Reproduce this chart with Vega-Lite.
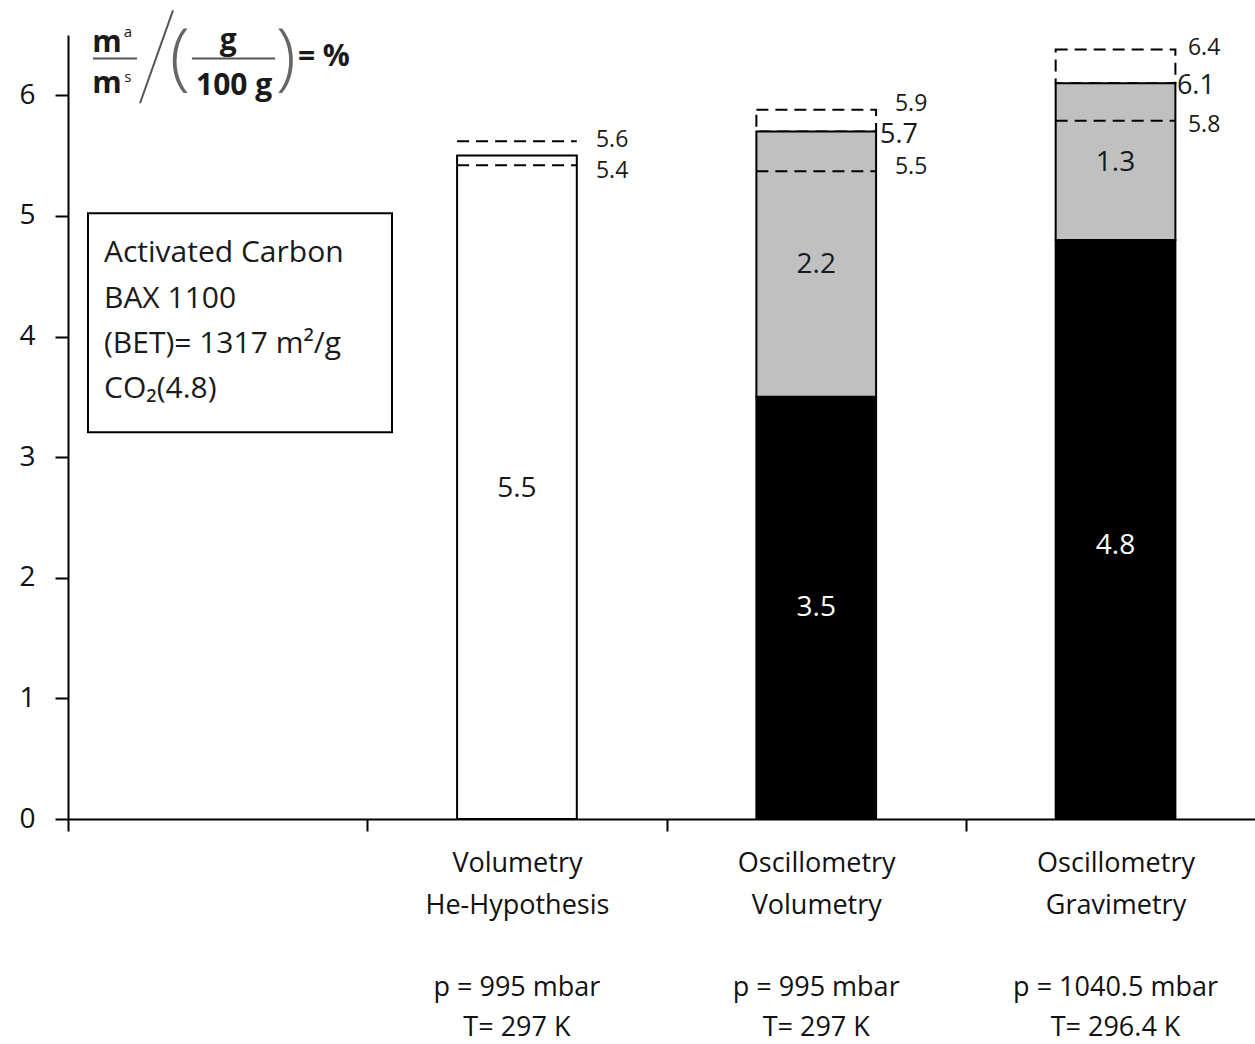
{
"$schema": "https://vega.github.io/schema/vega-lite/v6.json",
"width": 1187,
"height": 784,
"autosize": {"type": "none"},
"padding": {"left": 68, "top": 35, "right": 0, "bottom": 225},
"background": "white",
"config": {"view": {"stroke": null}, "font": "Open Sans", "text": {"font": "Open Sans"}},
"datasets": {
"bars": [
{"method": "Volumetry He-Hypothesis", "segment": "total", "x": 1.3, "x2": 1.7, "y": 0, "y2": 5.5},
{"method": "Oscillometry Volumetry", "segment": "dark", "x": 2.3, "x2": 2.7, "y": 0, "y2": 3.5},
{"method": "Oscillometry Volumetry", "segment": "light", "x": 2.3, "x2": 2.7, "y": 3.5, "y2": 5.7},
{"method": "Oscillometry Gravimetry", "segment": "dark", "x": 3.3, "x2": 3.7, "y": 0, "y2": 4.8},
{"method": "Oscillometry Gravimetry", "segment": "light", "x": 3.3, "x2": 3.7, "y": 4.8, "y2": 6.1}
],
"boxes": [
{"x": 2.3, "x2": 2.7, "y": 5.7, "y2": 5.88},
{"x": 3.3, "x2": 3.7, "y": 6.1, "y2": 6.38}
],
"dashes": [
{"x": 1.3, "x2": 1.7, "y": 5.62},
{"x": 1.3, "x2": 1.7, "y": 5.42},
{"x": 2.3, "x2": 2.7, "y": 5.37},
{"x": 3.3, "x2": 3.7, "y": 5.79}
],
"inlabels": [
{"x": 1.5, "y": 2.74, "t": "5.5", "bg": "white"},
{"x": 2.5, "y": 1.75, "t": "3.5", "bg": "dark"},
{"x": 2.5, "y": 4.59, "t": "2.2", "bg": "light"},
{"x": 3.5, "y": 2.26, "t": "4.8", "bg": "dark"},
{"x": 3.5, "y": 5.44, "t": "1.3", "bg": "light"}
],
"sidesmall": [
{"x": 1.764, "y": 5.627, "t": "5.6"},
{"x": 1.764, "y": 5.37, "t": "5.4"},
{"x": 2.763, "y": 5.925, "t": "5.9"},
{"x": 2.763, "y": 5.405, "t": "5.5"},
{"x": 3.742, "y": 6.39, "t": "6.4"},
{"x": 3.742, "y": 5.75, "t": "5.8"}
],
"sidebig": [
{"x": 2.713, "y": 5.67, "t": "5.7"},
{"x": 3.705, "y": 6.074, "t": "6.1"}
],
"conditions": [
{"x": 1.5, "y": -1.4, "t": "p = 995 mbar\nT= 297 K"},
{"x": 2.5, "y": -1.4, "t": "p = 995 mbar\nT= 297 K"},
{"x": 3.5, "y": -1.4, "t": "p = 1040.5 mbar\nT= 296.4 K"}
],
"legendbox": [{"x": 0.0668, "x2": 1.0825, "y": 3.207, "y2": 5.022}],
"legendtext": [
{"x": 0.1203, "y": 4.69, "t": "Activated Carbon"},
{"x": 0.1203, "y": 4.31, "t": "BAX 1100"},
{"x": 0.1203, "y": 3.937, "t": "(BET)= 1317 m²/g"},
{"x": 0.1203, "y": 3.563, "t": "CO₂(4.8)"}
],
"formula": [
{"x": 0.13, "y": 6.356, "t": "m"},
{"x": 0.13, "y": 6.017, "t": "m"},
{"x": 0.535, "y": 6.373, "t": "g"},
{"x": 0.555, "y": 6.0, "t": "100 g"},
{"x": 0.855, "y": 6.24, "t": "= %"}
],
"formulasup": [
{"x": 0.2, "y": 6.48, "t": "a"},
{"x": 0.2, "y": 6.108, "t": "s"}
],
"parens": [
{"x": 0.374, "y": 6.3, "t": "("},
{"x": 0.728, "y": 6.3, "t": ")"}
],
"fracbars": [
{"x": 0.0835, "x2": 0.2305, "y": 6.306, "y2": 6.306},
{"x": 0.414, "x2": 0.692, "y": 6.306, "y2": 6.306}
],
"slash": [{"x": 0.2406, "x2": 0.3508, "y": 5.934, "y2": 6.704}]
},
"encoding": {
"x": {"field": "x", "type": "quantitative",
"scale": {"domain": [0, 3.966], "nice": false, "zero": false},
"axis": {"title": null, "grid": false, "values": [0, 1, 1.5, 2, 2.5, 3, 3.5],
"domainColor": "black", "domainWidth": 2,
"tickColor": "black", "tickWidth": 2, "tickSize": 12,
"tickOpacity": {"condition": {"test": "datum.value % 1 === 0", "value": 1}, "value": 0},
"labelExpr": "datum.value === 1.5 ? ['Volumetry','He-Hypothesis'] : datum.value === 2.5 ? ['Oscillometry','Volumetry'] : datum.value === 3.5 ? ['Oscillometry','Gravimetry'] : ''",
"labelFontSize": 27, "labelLineHeight": 42, "labelColor": "#111111", "labelBaseline": "top",
"labelPadding": 19, "labelAngle": 0, "labelFlush": false, "labelOverlap": false, "labelLimit": 0, "labelFont": "Open Sans"}},
"y": {"field": "y", "type": "quantitative",
"scale": {"domain": [0, 6.5], "nice": false, "zero": true},
"axis": {"title": null, "grid": false, "values": [0, 1, 2, 3, 4, 5, 6],
"domainColor": "black", "domainWidth": 2,
"tickColor": "black", "tickWidth": 2, "tickSize": 13,
"labelFontSize": 28, "labelColor": "#111111", "labelPadding": 20, "labelFont": "Open Sans"}}
},
"layer": [
{"data": {"name": "boxes"}, "mark": {"type": "rect", "fill": null, "fillOpacity": 0, "stroke": "black", "strokeWidth": 2, "strokeDash": [12, 7]},
"encoding": {"x2": {"field": "x2"}, "y2": {"field": "y2"}}},
{"data": {"name": "bars"}, "mark": {"type": "rect", "stroke": "black", "strokeWidth": 2},
"encoding": {"x2": {"field": "x2"}, "y2": {"field": "y2"},
"fill": {"field": "segment", "type": "nominal", "scale": {"domain": ["total", "dark", "light"], "range": ["#ffffff", "#000000", "#c0c0c0"]}, "legend": null}}},
{"data": {"name": "dashes"}, "mark": {"type": "rule", "stroke": "black", "strokeWidth": 2, "strokeDash": [12, 7]},
"encoding": {"x2": {"field": "x2"}}},
{"data": {"name": "inlabels"}, "mark": {"type": "text", "fontSize": 28, "align": "center", "baseline": "middle"},
"encoding": {"text": {"field": "t"}, "color": {"condition": {"test": "datum.bg === 'dark'", "value": "white"}, "value": "#1a1a1a"}}},
{"data": {"name": "sidesmall"}, "mark": {"type": "text", "fontSize": 23, "align": "left", "baseline": "middle", "color": "#1a1a1a"},
"encoding": {"text": {"field": "t"}}},
{"data": {"name": "sidebig"}, "mark": {"type": "text", "fontSize": 27, "align": "left", "baseline": "middle", "color": "#1a1a1a"},
"encoding": {"text": {"field": "t"}}},
{"data": {"name": "conditions"}, "mark": {"type": "text", "fontSize": 27, "lineBreak": "\n", "lineHeight": 40, "align": "center", "baseline": "middle", "color": "#111111", "clip": false},
"encoding": {"text": {"field": "t"}}},
{"data": {"name": "legendbox"}, "mark": {"type": "rect", "fill": "white", "stroke": "black", "strokeWidth": 2},
"encoding": {"x2": {"field": "x2"}, "y2": {"field": "y2"}}},
{"data": {"name": "legendtext"}, "mark": {"type": "text", "fontSize": 30, "align": "left", "baseline": "middle", "color": "#1a1a1a"},
"encoding": {"text": {"field": "t"}}},
{"data": {"name": "formula"}, "mark": {"type": "text", "fontSize": 30, "fontWeight": "bold", "align": "center", "baseline": "alphabetic", "color": "#1a1a1a"},
"encoding": {"text": {"field": "t"}}},
{"data": {"name": "formulasup"}, "mark": {"type": "text", "fontSize": 15, "align": "center", "baseline": "alphabetic", "color": "#1a1a1a"},
"encoding": {"text": {"field": "t"}}},
{"data": {"name": "parens"}, "mark": {"type": "text", "fontSize": 74, "fontWeight": 300, "align": "center", "baseline": "middle", "color": "#666666"},
"encoding": {"text": {"field": "t"}}},
{"data": {"name": "fracbars"}, "mark": {"type": "rule", "stroke": "#555555", "strokeWidth": 2},
"encoding": {"x2": {"field": "x2"}, "y2": {"field": "y2"}}},
{"data": {"name": "slash"}, "mark": {"type": "rule", "stroke": "#555555", "strokeWidth": 2},
"encoding": {"x2": {"field": "x2"}, "y2": {"field": "y2"}}}
]
}
